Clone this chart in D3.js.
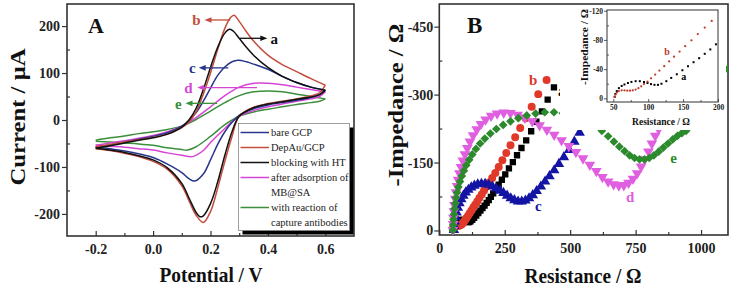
<!DOCTYPE html>
<meta charset="utf-8">
<html>
<head>
<style>
  body { margin: 0; background: #fff; }
  svg text { font-family: "Liberation Serif", "Times New Roman", serif; }
</style>
<script src="https://d3js.org/d3.v7.min.js"></script>
</head>
<body>
<div id="chart"></div>
<script>
// ---------- panel A : cyclic voltammograms, [potential V, current uA] ----------
const cvGCPfwd = [[-0.2,-58],[-0.15,-53],[-0.1,-47],[-0.05,-41],[0,-35],[0.05,-27],[0.1,-13],[0.125,-1],[0.15,16],[0.175,40],[0.2,68],[0.225,95],[0.25,113],[0.275,124],[0.296,127],[0.325,124],[0.35,119],[0.4,108],[0.45,93],[0.5,80],[0.55,70],[0.6,64]];
const cvGCPrev = [[0.6,64],[0.58,54],[0.55,48],[0.5,42],[0.45,37],[0.4,32],[0.35,24],[0.3,10],[0.275,-5],[0.25,-25],[0.225,-52],[0.2,-85],[0.175,-115],[0.145,-130],[0.125,-125],[0.1,-112],[0.05,-94],[0,-80],[-0.05,-72],[-0.1,-66],[-0.15,-61],[-0.2,-58]];
const cvAuFwd = [[-0.2,-57],[-0.15,-52],[-0.1,-47],[-0.05,-42],[0,-37],[0.05,-30],[0.1,-16],[0.125,-4],[0.15,18],[0.175,55],[0.2,100],[0.225,150],[0.25,195],[0.27,218],[0.282,223],[0.3,210],[0.325,188],[0.35,168],[0.4,138],[0.45,118],[0.5,103],[0.55,88],[0.6,74]];
const cvAuRev = [[0.6,74],[0.58,58],[0.55,51],[0.5,45],[0.45,40],[0.4,35],[0.35,27],[0.3,8],[0.275,-35],[0.25,-88],[0.225,-145],[0.2,-195],[0.175,-218],[0.15,-203],[0.125,-172],[0.1,-140],[0.05,-105],[0,-88],[-0.05,-78],[-0.1,-71],[-0.15,-65],[-0.2,-61]];
const cvHTfwd = [[-0.2,-60],[-0.15,-55],[-0.1,-49],[-0.05,-43],[0,-38],[0.05,-30],[0.1,-15],[0.125,0],[0.15,25],[0.175,65],[0.2,112],[0.225,155],[0.25,185],[0.267,193],[0.28,189],[0.3,174],[0.325,155],[0.35,138],[0.4,112],[0.45,93],[0.5,80],[0.55,70],[0.6,63]];
const cvHTrev = [[0.6,63],[0.58,54],[0.55,49],[0.5,44],[0.45,39],[0.4,34],[0.35,26],[0.3,8],[0.275,-25],[0.25,-75],[0.225,-132],[0.2,-178],[0.175,-204],[0.163,-206],[0.15,-197],[0.125,-166],[0.1,-135],[0.05,-102],[0,-85],[-0.05,-76],[-0.1,-69],[-0.15,-64],[-0.2,-60]];
const cvMBfwd = [[-0.2,-54],[-0.15,-49],[-0.1,-44],[-0.05,-39],[0,-33],[0.05,-25],[0.1,-13],[0.15,5],[0.2,28],[0.25,52],[0.3,70],[0.35,78],[0.4,78],[0.45,75],[0.5,70],[0.55,65],[0.6,60]];
const cvMBrev = [[0.6,60],[0.58,50],[0.55,45],[0.5,40],[0.45,34],[0.4,28],[0.35,20],[0.3,8],[0.25,-18],[0.2,-48],[0.175,-65],[0.137,-78],[0.1,-75],[0.05,-70],[0,-64],[-0.05,-61],[-0.1,-58],[-0.15,-56],[-0.2,-54]];
const cvAbFwd = [[-0.2,-43],[-0.15,-38],[-0.1,-34],[-0.05,-29],[0,-25],[0.05,-20],[0.1,-13],[0.15,1],[0.2,19],[0.25,37],[0.3,52],[0.35,60],[0.4,62],[0.45,60],[0.5,55],[0.55,50],[0.6,45]];
const cvAbRev = [[0.6,45],[0.58,40],[0.55,37],[0.5,33],[0.45,28],[0.4,23],[0.35,17],[0.3,8],[0.25,-10],[0.2,-35],[0.15,-57],[0.12,-64],[0.1,-63],[0.05,-59],[0,-54],[-0.05,-51],[-0.1,-49],[-0.15,-47],[-0.2,-45]];

const cvNames = ["bare GCP", "DepAu/GCP", "blocking with HT", "after adsorption of\nMB@SA", "with reaction of\ncapture antibodies"];
const cvTicksX = [-0.2, 0.0, 0.2, 0.4, 0.6];
const cvTicksY = [-200, -100, 0, 100, 200];

// ---------- panel B : Nyquist plots, [Z' ohm, -Z'' ohm] ----------
const eisA = [[52,2],[53,6],[55,10],[58,14],[62,17],[66,19],[71,21],[76,22.5],[82,23.5],[88,23.5],[94,22.5],[99,21],[104,19.5],[109,18.5],[114,18.5],[119,20],[126,23.5],[133,28],[141,33],[149,38.5],[157,44],[165,49.5],[173,55],[181,61],[189,67],[197,74],[206,82],[216,91],[227,101],[239,112],[252,124],[266,137],[281,151],[297,166],[314,182],[332,199],[351,219],[371,240],[392,263],[414,289],[438,316]];
const eisB = [[52,2],[53,5],[55,8],[58,10],[62,11],[66,11],[70,10.5],[74,10.5],[78,11],[82,12],[86,14],[90,16.5],[94,19.5],[99,23],[104,27.5],[110,32.5],[116,38],[123,44],[130,50.5],[137,57],[145,64],[153,71.5],[162,79.5],[171,88],[181,97],[191,106],[202,116],[214,127],[227,140],[241,155],[256,171],[272,188],[290,206],[309,226],[330,248],[353,273],[378,301],[410,332]];
const eisC = [[56,1],[57,10],[59,20],[62,30],[66,40],[71,50],[77,60],[84,69],[92,77],[101,84],[111,90],[122,95],[134,99],[147,102],[161,103],[175,103],[189,101],[203,97],[217,93],[231,88],[245,83],[259,77],[273,71],[287,67],[301,64],[315,64],[329,66],[343,71],[357,78],[372,87],[388,97],[404,108],[421,120],[439,133],[457,147],[476,162],[496,178],[516,196],[536,216],[555,238],[572,262],[586,282],[596,293]];
const eisD = [[52,1],[53,14],[54,28],[56,42],[58,56],[61,70],[64,84],[68,98],[72,112],[77,126],[83,140],[90,154],[98,168],[107,182],[117,196],[129,210],[143,223],[159,235],[177,245],[198,253],[221,258],[246,260],[272,259],[299,255],[327,249],[355,241],[383,232],[411,222],[439,211],[467,199],[495,186],[522,173],[549,159],[575,145],[600,131],[623,118],[645,108],[666,102],[686,99],[705,100],[723,105],[740,114],[756,126],[771,141],[785,157],[799,174],[812,192],[825,209],[838,224]];
const eisE = [[52,1],[53,12],[54,24],[56,36],[58,48],[61,60],[64,72],[68,84],[73,96],[79,108],[86,120],[94,132],[103,144],[114,156],[126,168],[140,180],[156,192],[174,203],[195,214],[218,224],[244,233],[272,241],[302,248],[334,254],[368,258],[403,261],[438,261],[472,259],[505,255],[537,249],[567,241],[595,231],[621,220],[645,208],[667,196],[688,185],[708,175],[727,166],[746,160],[765,157],[784,157],[802,160],[820,166],[838,174],[856,183],[874,192],[892,201],[910,209],[927,215],[943,220],[1102,356]];

const eisTicksX = [0, 250, 500, 750, 1000];
const eisTicksY = [0, 150, 300, 450];
const insetTicksX = [50, 100, 150, 200];
const insetTicksY = [0, 40, 80, 120];

// ---------- setup ----------
const svg = d3.select("#chart").append("svg")
    .attr("width", 730).attr("height", 288);

const cvColors = ["#28358c", "#c44d3e", "#111111", "#d545d5", "#3b8f3b"];
const eisColors = ["#000000", "#e0392a", "#1414a4", "#e05fe0", "#2b8a2b"];

const xA = d3.scaleLinear().domain([-0.3, 0.7]).range([67, 354]);
const yA = d3.scaleLinear().domain([-247, 247]).range([236, 4]);
const xB = d3.scaleLinear().domain([0, 1103]).range([439.3, 728]);
const yB = d3.scaleLinear().domain([-10, 500]).range([235, 4]);
const xI = d3.scaleLinear().domain([41, 200]).range([607, 718]);
const yI = d3.scaleLinear().domain([-5, 121]).range([102, 10]);

// draw axes: left major ticks out, minor in; bottom ticks in
function drawAxes(x, y, o) {
    const g = svg.append("g");
    const [x0, x1] = x.range(), [y0, y1] = y.range();

    g.append("g").attr("transform", "translate(" + x0 + ",0)")
        .call(d3.axisLeft(y).tickValues(o.ty).tickSize(o.major).tickPadding(o.pad).tickFormat(o.fy));
    g.append("g").attr("transform", "translate(" + x0 + ",0)")
        .call(d3.axisLeft(y).tickValues(o.my).tickSize(-o.minor).tickFormat(""));
    g.append("g").attr("transform", "translate(0," + y0 + ")")
        .call(d3.axisBottom(x).tickValues(o.tx).tickSize(-o.major).tickPadding(o.padx).tickFormat(o.fx));
    g.append("g").attr("transform", "translate(0," + y0 + ")")
        .call(d3.axisBottom(x).tickValues(o.mx).tickSize(-o.minor).tickFormat(""));

    g.selectAll(".domain").remove();
    g.selectAll(".tick line").attr("stroke", "#333").attr("stroke-width", o.sw);
    g.selectAll("text").attr("font-size", o.fs).attr("font-weight", "bold")
        .attr("fill", "#222").style("font-family", '"Liberation Serif", serif');

    g.append("rect")
        .attr("x", x0).attr("y", y1)
        .attr("width", x1 - x0).attr("height", y0 - y1)
        .attr("fill", "none").attr("stroke", "#333").attr("stroke-width", o.fw);
    return g;
}

const negFmt = d => d === 0 ? "0" : "-" + Math.abs(d);
const signFmt = d => (d < 0 ? "-" : "") + Math.abs(d);

// ---------- panel A ----------
drawAxes(xA, yA, {
    tx: cvTicksX, ty: cvTicksY,
    mx: [-0.1, 0.1, 0.3, 0.5], my: [-150, -50, 50, 150],
    fx: d => (d < 0 ? "-" : "") + Math.abs(d).toFixed(1), fy: signFmt,
    major: 5, minor: 3, pad: 2, padx: 8, fs: 14, sw: 1.2, fw: 1.6
});

svg.append("clipPath").attr("id", "clipA").append("rect")
    .attr("x", 67).attr("y", 4).attr("width", 287).attr("height", 232);

const cvLine = d3.line().x(d => xA(d[0])).y(d => yA(d[1]))
    .curve(d3.curveCatmullRom.alpha(0.5));

const cvSets = [[cvGCPfwd, cvGCPrev], [cvAuFwd, cvAuRev], [cvHTfwd, cvHTrev], [cvMBfwd, cvMBrev], [cvAbFwd, cvAbRev]];
const cvOrder = [4, 3, 0, 1, 2];
const gA = svg.append("g").attr("clip-path", "url(#clipA)");
cvOrder.forEach(i => {
    cvSets[i].forEach(branch => {
        gA.append("path").attr("d", cvLine(branch))
            .attr("fill", "none").attr("stroke", cvColors[i]).attr("stroke-width", 1.5);
    });
});

// arrow labels (data coords)
const cvMarks = [
    { t: "b", c: 1, tx: 0.151, ty: 212, from: 0.269, to: 0.179, y: 213 },
    { t: "a", c: 2, tx: 0.422, ty: 172, from: 0.302, to: 0.398, y: 174 },
    { t: "c", c: 0, tx: 0.137, ty: 110, from: 0.262, to: 0.159, y: 111 },
    { t: "d", c: 3, tx: 0.123, ty: 68, from: 0.362, to: 0.154, y: 69 },
    { t: "e", c: 4, tx: 0.088, ty: 34, from: 0.223, to: 0.113, y: 35.5 }
];
cvMarks.forEach(m => {
    const col = cvColors[m.c];
    const x1 = xA(m.from), x2 = xA(m.to), yy = yA(m.y);
    const dir = x2 > x1 ? 1 : -1;
    svg.append("line").attr("x1", x1).attr("x2", x2 - dir * 5).attr("y1", yy).attr("y2", yy)
        .attr("stroke", col).attr("stroke-width", 1.3);
    svg.append("path")
        .attr("d", `M${x2},${yy}L${x2 - dir * 7},${yy - 2.8}L${x2 - dir * 7},${yy + 2.8}Z`)
        .attr("fill", col);
    svg.append("text").attr("x", xA(m.tx)).attr("y", yA(m.ty))
        .attr("text-anchor", "middle").attr("dominant-baseline", "central")
        .attr("font-size", 15).attr("font-weight", "bold").attr("fill", col).text(m.t);
});

svg.append("text").attr("x", 88).attr("y", 33).attr("font-size", 22)
    .attr("font-weight", "bold").attr("fill", "#111").text("A");

// legend
const leg = svg.append("g");
leg.append("rect").attr("x", 242.5).attr("y", 127.5).attr("width", 111).attr("height", 107).attr("fill", "#000");
leg.append("rect").attr("x", 238.5).attr("y", 123.5).attr("width", 111).attr("height", 107)
    .attr("fill", "#fff").attr("stroke", "#888").attr("stroke-width", 0.8);
let row = 0;
cvNames.forEach((name, i) => {
    const lines = name.split("\n");
    const yy = 132.5 + row * 15;
    leg.append("line").attr("x1", 240.5).attr("x2", 269).attr("y1", yy).attr("y2", yy)
        .attr("stroke", cvColors[i]).attr("stroke-width", 1.5);
    lines.forEach((s, k) => {
        leg.append("text").attr("x", 271).attr("y", yy + k * 15)
            .attr("dominant-baseline", "central").attr("font-size", 10.5).attr("fill", "#222").text(s);
    });
    row += lines.length;
});

svg.append("text").attr("transform", "translate(25,117) rotate(-90)")
    .attr("text-anchor", "middle").attr("font-size", 21).attr("font-weight", "bold")
    .attr("textLength", 137).attr("lengthAdjust", "spacingAndGlyphs").attr("fill", "#111")
    .text("Current / μA");
svg.append("text").attr("x", 211).attr("y", 282)
    .attr("text-anchor", "middle").attr("font-size", 21).attr("font-weight", "bold")
    .attr("textLength", 103).attr("lengthAdjust", "spacingAndGlyphs").attr("fill", "#111")
    .text("Potential / V");

// ---------- panel B ----------
drawAxes(xB, yB, {
    tx: eisTicksX, ty: eisTicksY,
    mx: [125, 375, 625, 875], my: [75, 225, 375],
    fx: d => String(d), fy: negFmt,
    major: 5, minor: 3, pad: 1, padx: 8, fs: 14, sw: 1.2, fw: 1.6
});

svg.append("clipPath").attr("id", "clipB").append("rect")
    .attr("x", 439.3).attr("y", 4).attr("width", 288.7).attr("height", 231);

const symTypes = [
    { type: d3.symbolSquare, size: 40, rot: 0 },
    { type: d3.symbolCircle, size: 50, rot: 0 },
    { type: d3.symbolTriangle, size: 48, rot: 0 },
    { type: d3.symbolTriangle, size: 50, rot: 180 },
    { type: d3.symbolSquare, size: 38, rot: 45 }
];
const eisSets = [eisA, eisB, eisC, eisD, eisE];
const gB = svg.append("g").attr("clip-path", "url(#clipB)");
eisSets.forEach((set, i) => {
    const s = symTypes[i];
    gB.append("g").selectAll("path").data(set).join("path")
        .attr("d", d3.symbol().type(s.type).size(s.size))
        .attr("transform", d => `translate(${xB(d[0])},${yB(d[1])}) rotate(${s.rot})`)
        .attr("fill", eisColors[i]);
});

const eisMarks = [
    { t: "b", c: 1, r: 359, z: 332 }, { t: "a", c: 0, r: 468, z: 309 },
    { t: "c", c: 2, r: 378, z: 53 }, { t: "d", c: 3, r: 729, z: 75 },
    { t: "e", c: 4, r: 895, z: 160 }
];
eisMarks.forEach(m => {
    svg.append("text").attr("x", xB(m.r)).attr("y", yB(m.z))
        .attr("text-anchor", "middle").attr("dominant-baseline", "central")
        .attr("font-size", 15).attr("font-weight", "bold").attr("fill", eisColors[m.c]).text(m.t);
});

svg.append("text").attr("x", 467).attr("y", 33).attr("font-size", 23)
    .attr("font-weight", "bold").attr("fill", "#111").text("B");

svg.append("text").attr("transform", "translate(403,105) rotate(-90)")
    .attr("text-anchor", "middle").attr("font-size", 21).attr("font-weight", "bold")
    .attr("textLength", 163).attr("lengthAdjust", "spacingAndGlyphs").attr("fill", "#111")
    .text("-Impedance / Ω");
svg.append("text").attr("x", 583).attr("y", 283)
    .attr("text-anchor", "middle").attr("font-size", 21).attr("font-weight", "bold")
    .attr("textLength", 117).attr("lengthAdjust", "spacingAndGlyphs").attr("fill", "#111")
    .text("Resistance / Ω");

// ---------- inset ----------
svg.append("rect").attr("x", 560).attr("y", 5).attr("width", 166).attr("height", 125).attr("fill", "#fff");
drawAxes(xI, yI, {
    tx: insetTicksX, ty: insetTicksY,
    mx: [75, 125, 175], my: [20, 60, 100],
    fx: d => String(d), fy: negFmt,
    major: 3, minor: 2, pad: 1, padx: 3, fs: 7.5, sw: 0.8, fw: 1
});
svg.append("clipPath").attr("id", "clipI").append("rect")
    .attr("x", 607).attr("y", 10).attr("width", 111).attr("height", 92);
const gI = svg.append("g").attr("clip-path", "url(#clipI)");
[0, 1].forEach(i => {
    gI.append("g").selectAll("path").data(eisSets[i]).join("path")
        .attr("d", d3.symbol().type(i === 0 ? d3.symbolSquare : d3.symbolCircle).size(4))
        .attr("transform", d => `translate(${xI(d[0])},${yI(d[1])})`)
        .attr("fill", i === 0 ? "#000" : "#c0392b");
});
[{ t: "b", c: "#c0392b", r: 127, z: 64 }, { t: "a", c: "#000", r: 151, z: 30 }].forEach(m => {
    svg.append("text").attr("x", xI(m.r)).attr("y", yI(m.z))
        .attr("text-anchor", "middle").attr("dominant-baseline", "central")
        .attr("font-size", 10).attr("font-weight", "bold").attr("fill", m.c).text(m.t);
});
svg.append("text").attr("transform", "translate(588,47) rotate(-90)")
    .attr("text-anchor", "middle").attr("font-size", 10).attr("font-weight", "bold")
    .attr("textLength", 76).attr("lengthAdjust", "spacingAndGlyphs").attr("fill", "#111")
    .text("-Impedance / Ω");
svg.append("text").attr("x", 661).attr("y", 125)
    .attr("text-anchor", "middle").attr("font-size", 10).attr("font-weight", "bold")
    .attr("textLength", 58).attr("lengthAdjust", "spacingAndGlyphs").attr("fill", "#111")
    .text("Resistance / Ω");
</script>
</body>
</html>
